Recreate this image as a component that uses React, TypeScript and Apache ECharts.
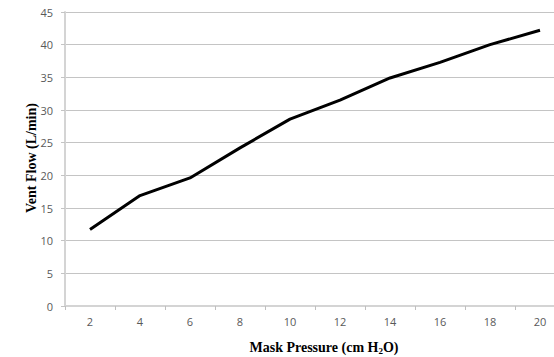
import React, { useEffect, useRef } from "react";
import * as echarts from "echarts";

const categories = ["2", "4", "6", "8", "10", "12", "14", "16", "18", "20"];
const ventFlow = [11.7, 16.9, 19.6, 24.2, 28.6, 31.5, 34.9, 37.3, 40.0, 42.2];
const yTicks = { min: 0, max: 45, interval: 5 };

export default function App() {
  const ref = useRef<HTMLDivElement>(null);
  useEffect(() => {
    if (!ref.current) return;
    const chart = echarts.init(ref.current, null, { renderer: "svg" });
    chart.setOption({
      animation: false,
      backgroundColor: "#ffffff",
      grid: { left: 65, right: -11, top: 12, bottom: 51, containLabel: false, outerBoundsMode: "none" },
      xAxis: {
        type: "category",
        data: categories,
        boundaryGap: true,
        axisLine: { show: true, lineStyle: { color: "#d4d4d4", width: 2 } },
        axisTick: { show: true, length: 4, lineStyle: { color: "#bfbfbf", width: 1 } },
        axisLabel: { color: "#595959", fontSize: 11, fontFamily: "Open Sans", margin: 10 },
        splitLine: { show: false },
      },
      yAxis: {
        type: "value",
        min: yTicks.min,
        max: yTicks.max,
        interval: yTicks.interval,
        axisLine: { show: true, lineStyle: { color: "#d4d4d4", width: 2 } },
        axisTick: { show: true, length: 4, lineStyle: { color: "#c4c4c4", width: 1 } },
        axisLabel: { color: "#595959", fontSize: 11, fontFamily: "Open Sans", margin: 12 },
        splitLine: { show: true, lineStyle: { color: "#c4c4c4", width: 1 } },
      },
      graphic: [
        {
          type: "text",
          x: 31,
          y: 158,
          rotation: Math.PI / 2,
          style: {
            text: "Vent Flow (L/min)",
            font: "bold 14px 'Liberation Serif'",
            fill: "#000000",
            align: "center",
            verticalAlign: "middle",
          },
        },
        {
          type: "text",
          x: 324,
          y: 347,
          style: {
            text: "{a|Mask Pressure (cm H}{s|2}{a|O)}",
            align: "center",
            verticalAlign: "middle",
            rich: {
              a: { font: "bold 14px 'Liberation Serif'", fill: "#000000" },
              s: { font: "bold 9px 'Liberation Serif'", fill: "#000000", padding: [8, 0, 0, 0] },
            },
          },
        },
      ],
      series: [
        {
          type: "line",
          data: ventFlow,
          symbol: "none",
          lineStyle: { color: "#000000", width: 3 },
        },
      ],
    });
    return () => chart.dispose();
  }, []);
  return <div ref={ref} style={{ position: "fixed", left: 0, top: 0, width: 554, height: 357 }} />;
}
